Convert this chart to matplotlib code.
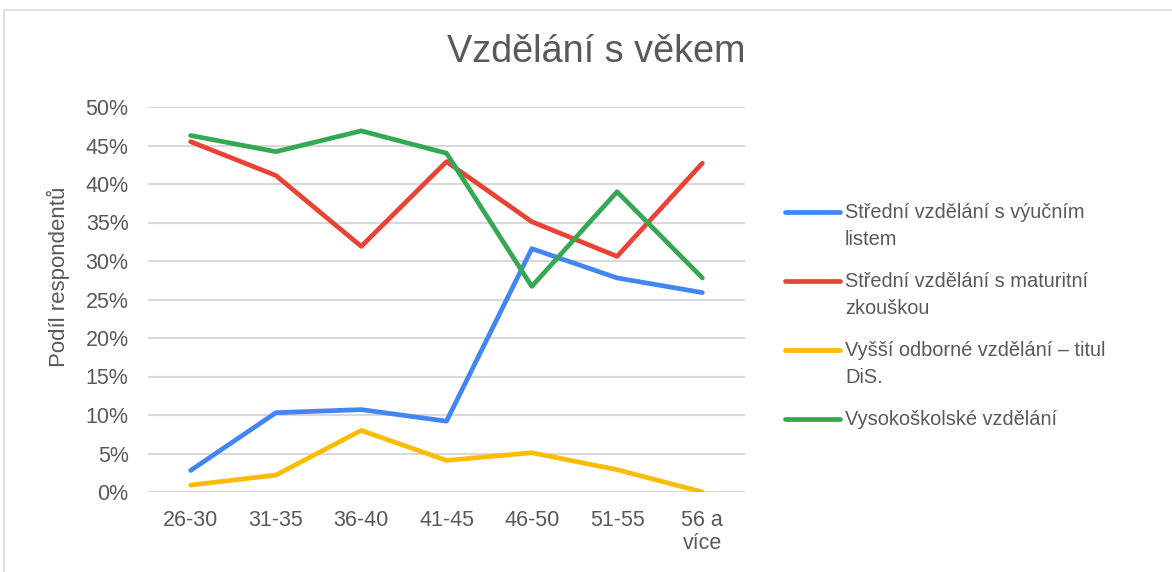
import matplotlib
matplotlib.use("Agg")
import matplotlib.pyplot as plt
from matplotlib.ticker import PercentFormatter
from matplotlib.patches import Rectangle
from matplotlib.lines import Line2D

categories = ["26-30", "31-35", "36-40", "41-45", "46-50", "51-55", "56 a\nvíce"]
vyucni = [2.8, 10.3, 10.7, 9.2, 31.6, 27.8, 25.9]
maturita = [45.5, 41.1, 31.9, 42.9, 35.1, 30.6, 42.7]
vos = [0.9, 2.2, 8.0, 4.1, 5.1, 2.9, 0.0]
vs = [46.3, 44.2, 46.9, 44.0, 26.7, 39.0, 27.8]

labels = ["Střední vzdělání s výučním\nlistem",
          "Střední vzdělání s maturitní\nzkouškou",
          "Vyšší odborné vzdělání – titul\nDiS.",
          "Vysokoškolské vzdělání"]
colors = ["#4285F4", "#EA4335", "#FBBC04", "#34A853"]

plt.rcParams['font.family'] = ['Liberation Sans', 'DejaVu Sans']
txt = "#595959"
W, H = 1172, 572

fig = plt.figure(figsize=(W / 100, H / 100), dpi=100)
fig.patches.append(Rectangle((4 / W, -0.05), 1.2, 1.05 - 10 / H, transform=fig.transFigure,
                             fill=False, edgecolor="#d9d9d9", linewidth=1.2))
ax = fig.add_axes([148 / W, 1 - 492 / H, (745 - 148) / W, (492 - 107) / H])

x = list(range(len(categories)))
for series, lab, c in zip([vyucni, maturita, vos, vs], labels, colors):
    ax.plot(x, series, color=c, linewidth=3.4, label=lab, solid_capstyle='round',
            solid_joinstyle='round')

ax.set_ylim(0, 50)
ax.set_yticks(range(0, 51, 5))
ax.yaxis.set_major_formatter(PercentFormatter(decimals=0))
ax.set_xlim(-0.5, len(categories) - 0.5)
ax.set_xticks(x)
ax.set_xticklabels(categories, linespacing=1.15)
ax.grid(axis='y', color="#d9d9d9", linewidth=1.5)
ax.set_axisbelow(True)
for s in ax.spines.values():
    s.set_visible(False)
ax.tick_params(axis='y', length=0, labelsize=15.5, colors=txt, pad=14)
ax.tick_params(axis='x', length=0, labelsize=15.5, colors=txt, pad=13)

fig.text(58 / W, 1 - 277 / H, "Podíl respondentů", rotation=90, ha='center', va='center',
         fontsize=16, color=txt)

fig.text(596 / W, 1 - 52 / H, "Vzdělání s věkem", ha='center', va='center',
         fontsize=27.3, color=txt)

# legend (handle aligned with first text line, as in the reference)
for i, (lab, c) in enumerate(zip(labels, colors)):
    y0 = 212 + i * 69
    fig.add_artist(Line2D([785 / W, 840 / W], [1 - y0 / H, 1 - y0 / H],
                          transform=fig.transFigure, color=c, linewidth=3.4,
                          solid_capstyle='round'))
    for k, line in enumerate(lab.split("\n")):
        fig.text(845 / W, 1 - (y0 + 6 + k * 27) / H, line, ha='left', va='baseline',
                 fontsize=14.4, color=txt)

fig.savefig("out.png", dpi=100, facecolor="white")
